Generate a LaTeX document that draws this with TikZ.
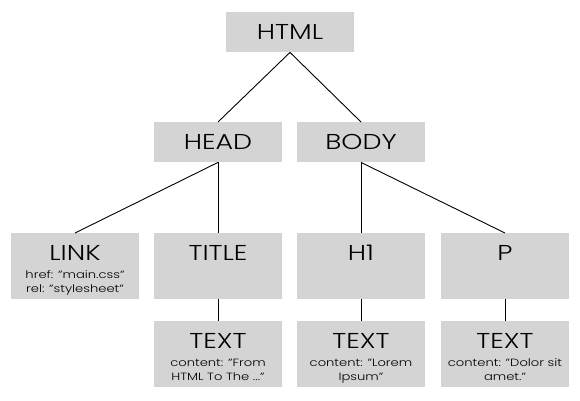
\documentclass[tikz,border=0pt]{standalone}
\usepackage{fontspec}
\setmainfont{Poppins Light}[FakeStretch=1.25]
\definecolor{boxgray}{RGB}{212,212,212}
\newcommand\bigtxt{\fontsize{21.5}{24}\selectfont}
\newcommand\smalltxt{\fontsize{10.5}{14.5}\selectfont}
\def\tallbox#1#2{\parbox[t][66pt][t]{128pt}{\centering\bigtxt\rule{0pt}{27pt}#1\par\vspace{3.5pt}\smalltxt #2\par}}

\begin{document}
\begin{tikzpicture}[x=1pt, y=-1pt,
		box/.style={fill=boxgray, inner sep=0pt, minimum width=128pt, minimum height=40pt, anchor=north, font=\bigtxt},
		edge/.style={line width=0.9pt}]
			%%%%% START %%%%%
			\useasboundingbox (0, 0) rectangle (580, 400);
			
			\node[box] (html) at (290, 12) {HTML};
			
			\node[box] (head) at (218, 122) {HEAD};
			\node[box] (body) at (361, 122) {BODY};
			
			\node[box] (link) at (75, 233) {\tallbox{LINK}{href: "main.css"\\rel: "stylesheet"}};
			\node[box] (title) at (218, 233) {\tallbox{TITLE}{}};
			\node[box] (hone) at (361, 233) {\tallbox{H1}{}};
			\node[box] (para) at (505, 233) {\tallbox{P}{}};
			
			\node[box] (titletext) at (218, 321) {\tallbox{TEXT}{content: "From\\HTML To The ..."}};
			\node[box] (honetext) at (361, 321) {\tallbox{TEXT}{content: "Lorem\\Ipsum"}};
			\node[box] (paratext) at (505, 321) {\tallbox{TEXT}{content: "Dolor sit\\amet."}};
			
			\draw[edge] (html.south) -- (head.north);
			\draw[edge] (html.south) -- (body.north);
			
			\draw[edge] (head.south) -- (link.north);
			\draw[edge] (head.south) -- (title.north);
			\draw[edge] (body.south) -- (hone.north);
			\draw[edge] (body.south) -- (para.north);
			
			\draw[edge] (title.south) -- (titletext.north);
			\draw[edge] (hone.south) -- (honetext.north);
			\draw[edge] (para.south) -- (paratext.north);
			%%%%% END %%%%%
\end{tikzpicture}
\end{document}
